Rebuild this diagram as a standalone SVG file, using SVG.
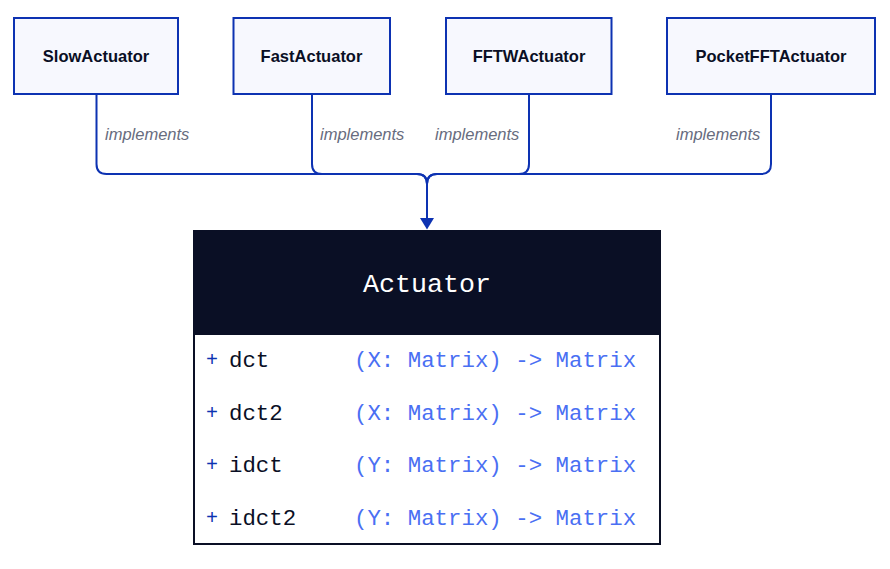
<svg xmlns="http://www.w3.org/2000/svg" width="890" height="569" viewBox="0 0 890 569">
<defs>
<style>
.node{fill:#F7F8FE;stroke:#0D32B2;stroke-width:2}
.nlabel{font-family:"Liberation Sans",Arial,sans-serif;font-weight:bold;font-size:16.5px;fill:#0A0F25;text-anchor:middle}
.conn{fill:none;stroke:#0D32B2;stroke-width:2}
.elabel{font-family:"Liberation Sans",Arial,sans-serif;font-style:italic;font-size:16.5px;fill:#676C7E}
.mono{font-family:"Liberation Mono","DejaVu Sans Mono",monospace}
.plus{fill:#0D32B2;font-size:20px}
.fname{fill:#0A0F25;font-size:22.4px}
.ftype{fill:#4A6FF3;font-size:22.4px}
</style>
<marker id="arrow" markerWidth="14" markerHeight="12" refX="7" refY="11" orient="auto" markerUnits="userSpaceOnUse" viewBox="0 0 14 12">
<polygon points="0,0 14,0 7,11" fill="#0D32B2"/>
</marker>
</defs>
<rect width="890" height="569" fill="#FFFFFF"/>
<g id="connectors">
<path class="conn" d="M96.5,94 V164 Q96.5,174 106.5,174 H417 Q427,174 427,184 V219"/>
<path class="conn" d="M312,94 V164 Q312,174 322,174 H417 Q427,174 427,184 V219"/>
<path class="conn" d="M529,94 V164 Q529,174 519,174 H437 Q427,174 427,184 V219"/>
<path class="conn" d="M771,94 V164 Q771,174 761,174 H437 Q427,174 427,184 V219"/>
<polygon points="420,218 434,218 427,229.5" fill="#0D32B2"/>
<text class="elabel" x="105" y="140">implements</text>
<text class="elabel" x="320" y="140">implements</text>
<text class="elabel" x="435" y="140">implements</text>
<text class="elabel" x="676" y="140">implements</text>
</g>
<g id="SlowActuator">
<rect class="node" x="14" y="18" width="164" height="76"/>
<text class="nlabel" x="96" y="62">SlowActuator</text>
</g>
<g id="FastActuator">
<rect class="node" x="233.5" y="18" width="156.5" height="76"/>
<text class="nlabel" x="311.5" y="62">FastActuator</text>
</g>
<g id="FFTWActuator">
<rect class="node" x="446" y="18" width="165.5" height="76"/>
<text class="nlabel" x="529" y="62">FFTWActuator</text>
</g>
<g id="PocketFFTActuator">
<rect class="node" x="667" y="18" width="208" height="76"/>
<text class="nlabel" x="771" y="62">PocketFFTActuator</text>
</g>
<g id="Actuator">
<rect x="194" y="231" width="466" height="313" fill="#FFFFFF" stroke="#0A0F25" stroke-width="2"/>
<rect x="193" y="230" width="468" height="105" fill="#0A0F25"/>
<text class="mono" x="427" y="292" font-size="26.7px" fill="#FFFFFF" text-anchor="middle">Actuator</text>
<text class="mono plus" x="206" y="366">+</text>
<text class="mono fname" x="229" y="367">dct</text>
<text class="mono ftype" x="354" y="367">(X: Matrix) -&gt; Matrix</text>
<text class="mono plus" x="206" y="418.5">+</text>
<text class="mono fname" x="229" y="419.5">dct2</text>
<text class="mono ftype" x="354" y="419.5">(X: Matrix) -&gt; Matrix</text>
<text class="mono plus" x="206" y="471">+</text>
<text class="mono fname" x="229" y="472">idct</text>
<text class="mono ftype" x="354" y="472">(Y: Matrix) -&gt; Matrix</text>
<text class="mono plus" x="206" y="523.5">+</text>
<text class="mono fname" x="229" y="524.5">idct2</text>
<text class="mono ftype" x="354" y="524.5">(Y: Matrix) -&gt; Matrix</text>
</g>
</svg>
